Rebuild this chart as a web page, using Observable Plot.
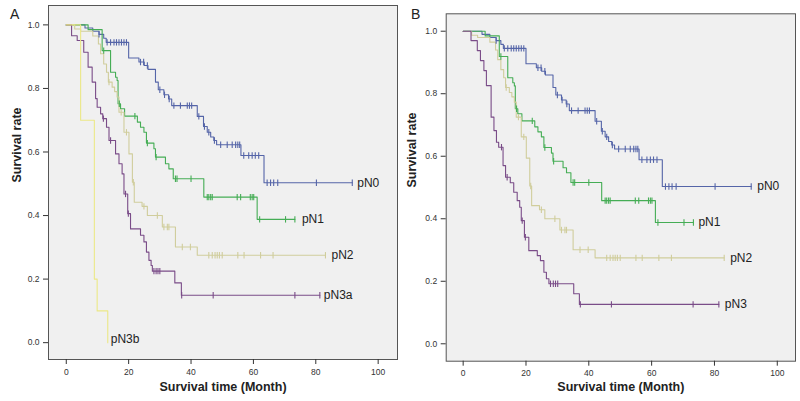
<!DOCTYPE html>
<html><head><meta charset="utf-8">
<script src="https://cdn.jsdelivr.net/npm/d3@7"></script>
<script src="https://cdn.jsdelivr.net/npm/@observablehq/plot@0.6"></script>
<style>
body{margin:0;background:#fff;width:800px;height:401px;overflow:hidden;font-family:"Liberation Sans",Arial,sans-serif}
#wrap{position:relative;width:800px;height:401px}
.panel{position:absolute;top:0;width:400px;height:401px}
.plabel{position:absolute;font-size:14px;line-height:16px;color:#222}
</style></head><body>
<div id="wrap">
<div class="panel" id="pa" style="left:0"></div>
<div class="panel" id="pb" style="left:400px"></div>
<div class="plabel" style="left:10px;top:6px">A</div>
<div class="plabel" style="left:411px;top:6px">B</div>
</div>
<script>
// ---- ticks and labels ----
const xTicks = [0, 20, 40, 60, 80, 100];
const yTicks = [0, 0.2, 0.4, 0.6, 0.8, 1.0];
const xTitle = "Survival time (Month)";
const yTitle = "Survival rate";
const panelLetters = ["A", "B"];

// ---- series: event [time, survival after event], censor times, last follow-up ----
const pN0Events = [[6,0.99],[8.5,0.98],[10.5,0.97],[12,0.958],[12.8,0.945],[20,0.896],[23.3,0.883],[25,0.872],[26.2,0.86],[28.6,0.82],[29.5,0.796],[31.3,0.78],[32.8,0.767],[33.8,0.746],[42,0.712],[44,0.68],[45.2,0.662],[46.3,0.647],[47.3,0.636],[48.2,0.623],[56,0.589],[63.4,0.503]];
const pN0Censored = [10.5,13.1,14.2,15.3,16.1,16.9,17.7,18.5,19.3,23.8,24.8,26,30,31.5,33,34.5,36.6,38.8,39.5,40.2,42.5,44.3,45.7,47.5,49.5,51.6,53.2,54.3,55,55.6,56.9,58.5,59.6,60.6,61.7,64.4,65.5,66.5,67.8,80.2,91.7];
const pN0End = 91.7;

const pN1Events = [[7,0.985],[11.5,0.919],[14.2,0.851],[15.8,0.835],[16.3,0.825],[16.6,0.752],[17.4,0.736],[18.7,0.713],[22.8,0.694],[23.8,0.678],[24.9,0.662],[25.7,0.628],[28.1,0.61],[28.6,0.584],[31.8,0.563],[32.9,0.547],[34.3,0.516],[44.1,0.458],[61.2,0.388]];
const pN1Censored = [12,17,22,26,28.8,35,35.5,40,45.2,45.7,46.3,46.8,54.8,55.9,59,59.6,60.1,62,70.3,73.3];
const pN1End = 73.3;

const pN2Events = [[2.7,0.987],[4.6,0.98],[8.5,0.965],[10.3,0.94],[11,0.909],[12,0.877],[12.9,0.851],[13.5,0.82],[14.7,0.804],[15.5,0.79],[16.3,0.773],[16.9,0.725],[18.5,0.662],[20.1,0.594],[21.2,0.505],[21.8,0.442],[24.3,0.429],[26,0.4],[30.8,0.364],[35,0.301],[42,0.275]];
const pN2Censored = [13.7,17.6,19.3,21.5,24.9,29.2,31.3,32.4,32.9,37.2,39.8,45.7,46.8,47.7,48.4,49.1,50,55,57,62.3,66.3,83.1];
const pN2End = 83.1;

const pN3aEvents = [[1.7,0.966],[3.5,0.951],[5.6,0.914],[7,0.867],[8.3,0.82],[9.4,0.768],[9.9,0.741],[11,0.72],[11.7,0.705],[12.9,0.678],[13.7,0.636],[15.8,0.594],[16.9,0.563],[17.9,0.531],[18.5,0.468],[19.7,0.406],[20.6,0.358],[23.8,0.338],[24.9,0.317],[25.7,0.285],[26.5,0.259],[27.2,0.243],[27.6,0.225],[34.8,0.188],[36.9,0.149]];
const pN3aCensored = [11.9,14.2,19,19.9,28.1,28.8,29.4,30,37,47.1,73.3,81.3];
const pN3aEnd = 81.3;

const pN3bEvents = [[4.6,0.7],[9.0,0.2],[9.9,0.1],[13.3,0.0]];
const pN3bCensored = [];
const pN3bEnd = 13.3;

const pN3Events = [[2.5,0.97],[4.5,0.938],[5.5,0.906],[6.6,0.874],[7.4,0.826],[8.9,0.725],[9.8,0.682],[10.6,0.645],[11.3,0.629],[12.7,0.57],[13.5,0.533],[15,0.515],[16.1,0.485],[17.2,0.458],[18,0.437],[18.5,0.394],[19.5,0.341],[20.9,0.298],[23.6,0.282],[24.6,0.266],[25.7,0.229],[26.5,0.208],[27.3,0.192],[35.2,0.16],[37,0.126]];
const pN3Censored = [12.2,14,18.8,19.8,27.8,28.7,29.4,30.1,37.3,47.2,73.2,81.4];
const pN3End = 81.4;

const colors = {pN0:"#5565a8", pN1:"#45ad55", pN2:"#d0cd9c", pN3a:"#7a4c88", pN3b:"#ebe887", pN3:"#7a4c88"};

// ---- helpers ----
function survAt(events, t){ let s = 1; for (const [et, es] of events) if (et <= t) s = es; return s; }
function linePts(name, events, end){
  const pts = [{name, t:0, s:1}];
  for (const [t, s] of events) pts.push({name, t, s});
  const last = pts[pts.length-1];
  if (end > last.t) pts.push({name, t:end, s:last.s});
  return pts;
}
const vline = {draw(ctx, size){ const h = Math.sqrt(size/Math.PI); ctx.moveTo(0,-h); ctx.lineTo(0,h); }};

function makePanel(series, cfg){
  const lines = series.flatMap(d => linePts(d.name, d.events, d.end));
  const cens = series.flatMap(d => d.censored.map(t => ({name:d.name, t, s:survAt(d.events, t)})));
  const labels = series.map(d => ({name:d.name, t:d.end, s:survAt(d.events, d.end), dx:d.dx ?? 5, dy:d.dy ?? 0}));
  const names = series.map(d => d.name);
  return Plot.plot({
    width:400, height:401,
    marginLeft:cfg.ml, marginTop:cfg.mt, marginRight:cfg.mr, marginBottom:cfg.mb,
    x:{domain:cfg.xd}, y:{domain:cfg.yd},
    color:{domain:names, range:names.map(n => colors[n])},
    style:{fontFamily:"'Liberation Sans', Arial, sans-serif", fontSize:"8.5px", color:"#333", background:"transparent"},
    marks:[
      Plot.frame({fill:"#f0f0f0", stroke:"#555"}),
      Plot.axisY({ticks:yTicks, tickFormat:d3.format(".1f"), tickSize:5, label:null}),
      Plot.axisX({ticks:xTicks, tickSize:5, label:null}),
      Plot.line(lines, {x:"t", y:"s", z:"name", stroke:"name", curve:"step-after", strokeWidth:1.1}),
      Plot.dot(cens, {x:"t", y:"s", stroke:"name", fill:"none", symbol:vline, r:3.2, strokeWidth:1.1}),
      ...labels.map(l => Plot.text([l], {x:"t", y:"s", text:"name", dx:l.dx, dy:l.dy, textAnchor:"start", fontSize:12, fill:"#222"})),
      Plot.text([xTitle], {frameAnchor:"bottom", dy:cfg.xdy, fontSize:12.5, fontWeight:"bold", fill:"#222"}),
      Plot.text([yTitle], {frameAnchor:"left", dx:cfg.ydx, rotate:-90, fontSize:12.5, fontWeight:"bold", fill:"#222"})
    ]
  });
}

const seriesA = [
  {name:"pN0", events:pN0Events, censored:pN0Censored, end:pN0End, dx:5},
  {name:"pN1", events:pN1Events, censored:pN1Censored, end:pN1End, dx:7},
  {name:"pN2", events:pN2Events, censored:pN2Censored, end:pN2End, dx:6},
  {name:"pN3a", events:pN3aEvents, censored:pN3aCensored, end:pN3aEnd, dx:4},
  {name:"pN3b", events:pN3bEvents, censored:pN3bCensored, end:pN3bEnd, dx:3, dy:-4}
];
const seriesB = [
  {name:"pN0", events:pN0Events, censored:pN0Censored, end:pN0End, dx:6},
  {name:"pN1", events:pN1Events, censored:pN1Censored, end:pN1End, dx:5},
  {name:"pN2", events:pN2Events, censored:pN2Censored, end:pN2End, dx:6},
  {name:"pN3", events:pN3Events, censored:pN3Censored, end:pN3End, dx:6}
];

document.getElementById("pa").append(makePanel(seriesA, {ml:48, mt:5, mr:3, mb:42, xd:[-5.7,106.2], yd:[-0.053,1.061], xdy:31, ydx:-32}));
document.getElementById("pb").append(makePanel(seriesB, {ml:45.7, mt:13.3, mr:5, mb:40.3, xd:[-5.4,105.8], yd:[-0.0557,1.0557], xdy:30, ydx:-34}));
</script>
</body></html>
